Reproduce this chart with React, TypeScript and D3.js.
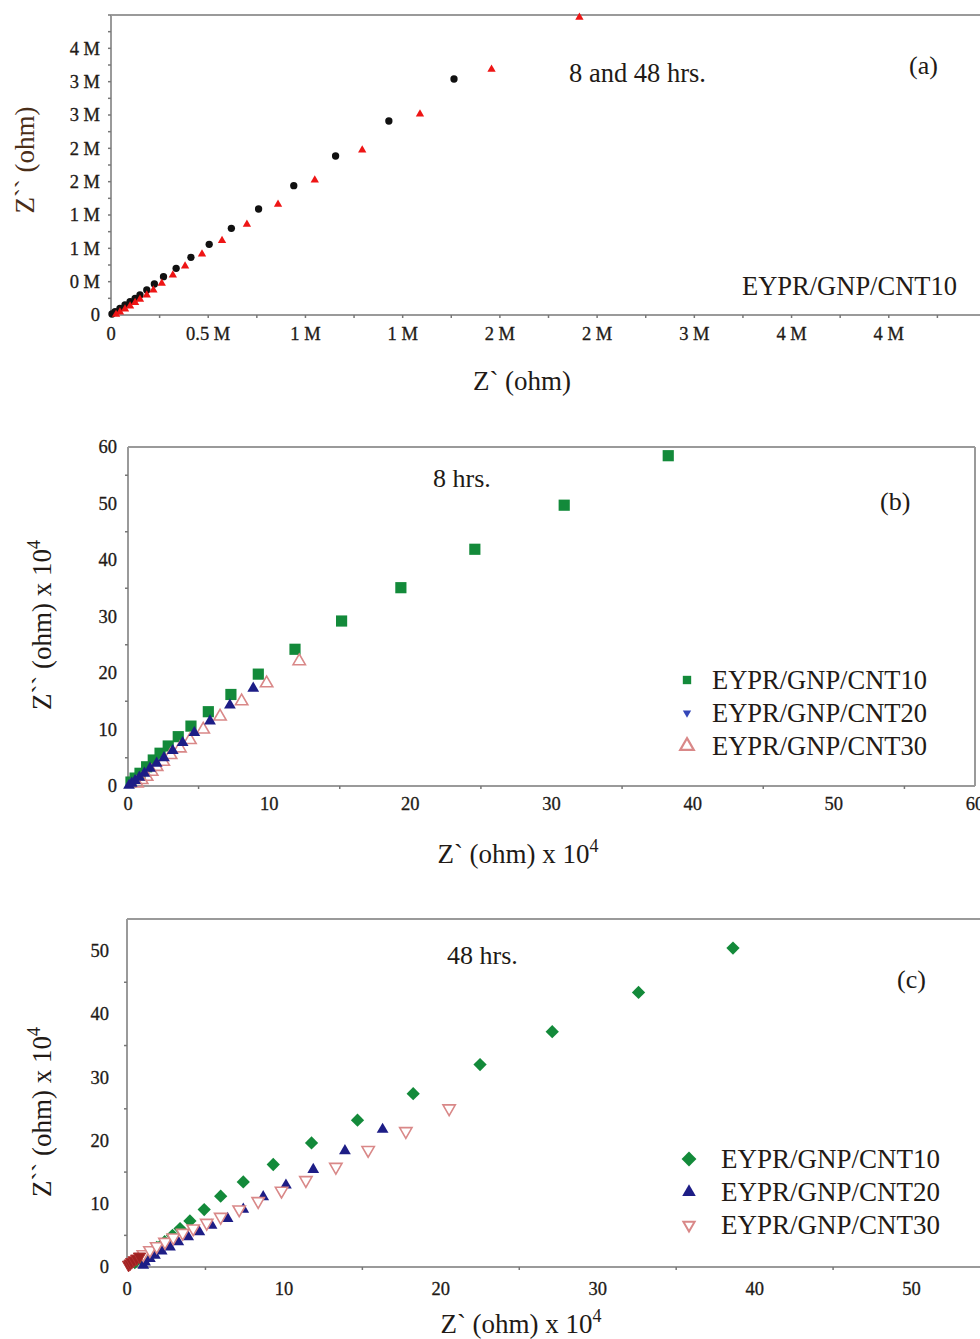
import React from "react";
import * as d3 from "d3";

// ---------- Panel (a): 8 and 48 hrs, values in M ohm ----------
const aXTicks = [0, 0.5, 1, 1.5, 2, 2.5, 3, 3.5, 4];
const aXTickLabels = ["0", "0.5 M", "1 M", "1 M", "2 M", "2 M", "3 M", "4 M", "4 M"];
const aYTicks = [0, 0.5, 1, 1.5, 2, 2.5, 3, 3.5, 4];
const aYTickLabels = ["0", "0 M", "1 M", "1 M", "2 M", "2 M", "3 M", "3 M", "4 M"];

const a8hrs: [number, number][] = [
  [0.005, 0.015], [0.021, 0.05], [0.046, 0.1], [0.072, 0.15], [0.098, 0.2],
  [0.124, 0.25], [0.149, 0.3], [0.184, 0.375], [0.223, 0.465], [0.27, 0.575],
  [0.335, 0.7], [0.411, 0.865], [0.505, 1.06], [0.619, 1.3], [0.759, 1.59],
  [0.94, 1.94], [1.155, 2.385], [1.429, 2.91], [1.764, 3.54],
];
const a48hrs: [number, number][] = [
  [0.026, 0.008], [0.046, 0.045], [0.072, 0.09], [0.098, 0.135], [0.124, 0.185],
  [0.149, 0.235], [0.184, 0.3], [0.218, 0.375], [0.261, 0.475], [0.318, 0.6],
  [0.381, 0.735], [0.468, 0.915], [0.571, 1.115], [0.699, 1.36], [0.859, 1.66],
  [1.048, 2.025], [1.292, 2.475], [1.589, 3.015], [1.957, 3.685], [2.409, 4.465],
];

// ---------- Panel (b): 8 hrs, values x 10^4 ohm ----------
const bTicks = [0, 10, 20, 30, 40, 50, 60];
const bSeriesNames = ["EYPR/GNP/CNT10", "EYPR/GNP/CNT20", "EYPR/GNP/CNT30"];
const bCNT10: [number, number][] = [
  [0.21, 0.7], [0.5, 1.4], [0.85, 2.25], [1.32, 3.4], [1.79, 4.6], [2.27, 5.8],
  [2.85, 7.08], [3.56, 8.73], [4.46, 10.6], [5.69, 13.15], [7.29, 16.2],
  [9.23, 19.8], [11.83, 24.2], [15.13, 29.2], [19.33, 35.1], [24.57, 41.9],
  [30.9, 49.7], [38.27, 58.46],
];
const bCNT20: [number, number][] = [
  [0.07, 0.1], [0.26, 0.48], [0.5, 0.94], [0.8, 1.54], [1.16, 2.25], [1.56, 3.13],
  [2.03, 4.0], [2.55, 5.0], [3.17, 6.25], [3.87, 7.66], [4.7, 9.43], [5.81, 11.5],
  [7.22, 14.3], [8.87, 17.3],
];
const bCNT30: [number, number][] = [
  [0.64, 0.48], [0.97, 1.06], [1.32, 1.65], [1.68, 2.53], [2.03, 3.4], [2.5, 4.3],
  [3.02, 5.49], [3.68, 6.67], [4.39, 8.14], [5.33, 10.0], [6.52, 12.3],
  [8.05, 15.0], [9.82, 18.2], [12.13, 22.1],
];

// ---------- Panel (c): 48 hrs, values x 10^4 ohm ----------
const cXTicks = [0, 10, 20, 30, 40, 50];
const cYTicks = [0, 10, 20, 30, 40, 50];
const cSeriesNames = ["EYPR/GNP/CNT10", "EYPR/GNP/CNT20", "EYPR/GNP/CNT30"];
const cCNT10: [number, number][] = [
  [0.5, 0.7], [0.9, 1.4], [1.4, 2.2], [1.9, 3.1], [2.4, 4.0], [2.9, 5.0],
  [3.38, 6.08], [4.01, 7.28], [4.92, 9.08], [5.97, 11.2], [7.41, 13.45],
  [9.32, 16.2], [11.76, 19.6], [14.69, 23.2], [18.24, 27.4], [22.5, 32.0],
  [27.1, 37.2], [32.6, 43.4], [38.62, 50.4],
];
const cCNT20: [number, number][] = [
  [1.04, 0.27], [1.15, 0.79], [1.46, 1.33], [1.78, 1.85], [2.21, 2.53],
  [2.74, 3.16], [3.27, 3.96], [3.9, 4.75], [4.61, 5.54], [5.39, 6.6], [6.41, 7.66],
  [7.41, 9.13], [8.68, 11.08], [10.13, 12.93], [11.87, 15.41], [13.89, 18.35],
  [16.29, 21.74],
];
const cCNT30: [number, number][] = [
  [1.04, 2.01], [1.46, 2.64], [1.89, 3.28], [2.42, 3.96], [2.95, 4.65],
  [3.55, 5.38], [4.22, 6.08], [5.08, 6.96], [5.97, 7.91], [7.15, 9.08],
  [8.36, 10.4], [9.85, 12.03], [11.4, 13.72], [13.31, 15.82], [15.37, 18.47],
  [17.77, 21.47], [20.53, 25.06],
];
const cCNT30Origin: [number, number][] = [
  [0.1, 0.35], [0.2, 0.55], [0.3, 0.79], [0.45, 1.05], [0.62, 1.33], [0.8, 1.65],
];

// ---------- helpers ----------
const FONT = "'Liberation Serif', 'Times New Roman', serif";
const AXIS = "#9a9a9a";
const TXT = "#221a16";
const GREEN = "#138a3a";
const NAVY = "#1d1d86";
const PINK = "#d98888";

const sym = (t: d3.SymbolType, s: number) => d3.symbol().type(t).size(s)() as string;

type Style = { d: string; fill: string; stroke?: string; sw?: number; rot?: number };

function Marks({ pts, x, y, st }: { pts: [number, number][]; x: any; y: any; st: Style }) {
  return (
    <g>
      {pts.map((p, i) => (
        <path
          key={i}
          d={st.d}
          transform={`translate(${x(p[0])},${y(p[1])}) rotate(${st.rot || 0})`}
          fill={st.fill}
          stroke={st.stroke || "none"}
          strokeWidth={st.sw || 0}
        />
      ))}
    </g>
  );
}

function Axes({
  x, y, xTicks, xLabels, yTicks, yLabels, xMinor, yMinor, rightEnd, rightBorder, xLabelDy, yLabelDx, fs,
}: any) {
  const [x0] = x.range();
  const [yb, yt] = y.range();
  return (
    <g>
      <line x1={x0} x2={x0} y1={yt} y2={yb} stroke={AXIS} strokeWidth={2} />
      <line x1={x0} x2={rightEnd} y1={yb} y2={yb} stroke={AXIS} strokeWidth={2} />
      <line x1={x0} x2={rightEnd} y1={yt} y2={yt} stroke={AXIS} strokeWidth={2} />
      {rightBorder && <line x1={rightEnd} x2={rightEnd} y1={yt} y2={yb} stroke={AXIS} strokeWidth={2} />}
      {xMinor.filter((v: number) => x(v) <= rightEnd).map((v: number, i: number) => (
        <line key={"xm" + i} x1={x(v)} x2={x(v)} y1={yb} y2={yb + 3} stroke="#777" strokeWidth={1.5} />
      ))}
      {yMinor.map((v: number, i: number) => (
        <line key={"ym" + i} x1={x0 - 3} x2={x0} y1={y(v)} y2={y(v)} stroke="#777" strokeWidth={1.5} />
      ))}
      {xTicks.map((v: number, i: number) => (
        <text key={"xt" + i} x={x(v)} y={yb + xLabelDy} textAnchor="middle" fontFamily={FONT} fontSize={fs} fill={TXT}
          stroke={TXT} strokeWidth={0.3}>
          {xLabels[i]}
        </text>
      ))}
      {yTicks.map((v: number, i: number) => (
        <text key={"yt" + i} x={x0 - yLabelDx} y={y(v)} dy="0.35em" textAnchor="end" fontFamily={FONT} fontSize={fs} fill={TXT}
          stroke={TXT} strokeWidth={0.3}>
          {yLabels[i]}
        </text>
      ))}
    </g>
  );
}

const range = (a: number, b: number, s: number) => d3.range(a, b + s / 2, s);

export default function App() {
  // Panel a
  const ax = d3.scaleLinear().domain([0, 4.5]).range([111, 986]);
  const ay = d3.scaleLinear().domain([0, 4.5]).range([315, 15]);
  // Panel b
  const bx = d3.scaleLinear().domain([0, 60]).range([128, 975]);
  const by = d3.scaleLinear().domain([0, 60]).range([786, 447]);
  // Panel c
  const cx = d3.scaleLinear().domain([0, 55]).range([127, 990]);
  const cy = d3.scaleLinear().domain([0, 55]).range([1267, 919]);

  const circ = sym(d3.symbolCircle, 42);
  const triSmall = sym(d3.symbolTriangle, 30);
  const square = sym(d3.symbolSquare, 125);
  const triMid = sym(d3.symbolTriangle, 60);
  const triOpen = sym(d3.symbolTriangle, 66);
  const diamond = sym(d3.symbolSquare, 88);

  const legB: Style[] = [
    { d: sym(d3.symbolSquare, 70), fill: GREEN },
    { d: sym(d3.symbolTriangle, 30), fill: "#3446b8", rot: 180 },
    { d: sym(d3.symbolTriangle, 80), fill: "none", stroke: PINK, sw: 2.2 },
  ];
  const legC: Style[] = [
    { d: sym(d3.symbolSquare, 110), fill: GREEN, rot: 45 },
    { d: sym(d3.symbolTriangle, 80), fill: NAVY },
    { d: sym(d3.symbolTriangle, 55), fill: "none", stroke: PINK, sw: 2, rot: 180 },
  ];

  const titleFs = 27;

  return (
    <svg
      width={980}
      height={1339}
      viewBox="0 0 980 1339"
      style={{ position: "absolute", left: 0, top: 0, background: "#fff" }}
    >
      <rect width={980} height={1339} fill="#fff" />

      {/* ---------------- Panel (a) ---------------- */}
      <Axes
        x={ax}
        y={ay}
        xTicks={aXTicks}
        xLabels={aXTickLabels}
        yTicks={aYTicks}
        yLabels={aYTickLabels}
        xMinor={range(0.25, 4.5, 0.25)}
        yMinor={range(0.25, 4.5, 0.25)}
        rightEnd={980}
        rightBorder={false}
        xLabelDy={25}
        yLabelDx={11}
        fs={18.5}
      />
      <Marks pts={a8hrs} x={ax} y={ay} st={{ d: circ, fill: "#111" }} />
      <Marks pts={a48hrs} x={ax} y={ay} st={{ d: triSmall, fill: "#ee1515" }} />
      <text x={569} y={82} fontFamily={FONT} fontSize={26.5} fill={TXT}>8 and 48 hrs.</text>
      <text x={909} y={74} fontFamily={FONT} fontSize={26} fill={TXT}>(a)</text>
      <text x={742} y={295} fontFamily={FONT} fontSize={26.5} fill={TXT}>EYPR/GNP/CNT10</text>
      <text x={522} y={390} textAnchor="middle" fontFamily={FONT} fontSize={titleFs} fill={TXT}>Z` (ohm)</text>
      <text
        transform="translate(25,160) rotate(-90)"
        textAnchor="middle"
        dy="0.35em"
        fontFamily={FONT}
        fontSize={titleFs}
        fill="#4a2e18"
      >
        Z`` (ohm)
      </text>

      {/* ---------------- Panel (b) ---------------- */}
      <Axes
        x={bx}
        y={by}
        xTicks={bTicks}
        xLabels={bTicks.map(String)}
        yTicks={bTicks}
        yLabels={bTicks.map(String)}
        xMinor={range(5, 55, 10)}
        yMinor={range(5, 55, 10)}
        rightEnd={975}
        rightBorder={true}
        xLabelDy={24}
        yLabelDx={11}
        fs={18.5}
      />
      <Marks pts={bCNT10} x={bx} y={by} st={{ d: square, fill: GREEN }} />
      <Marks pts={bCNT30} x={bx} y={by} st={{ d: triOpen, fill: "none", stroke: PINK, sw: 1.6 }} />
      <Marks pts={bCNT20} x={bx} y={by} st={{ d: triMid, fill: NAVY }} />
      <text x={433} y={487} fontFamily={FONT} fontSize={26} fill={TXT}>8 hrs.</text>
      <text x={880} y={510} fontFamily={FONT} fontSize={26} fill={TXT}>(b)</text>
      {bSeriesNames.map((n, i) => (
        <g key={n}>
          <path d={legB[i].d} transform={`translate(687,${680 + i * 33}) rotate(${legB[i].rot || 0})`}
            fill={legB[i].fill} stroke={legB[i].stroke || "none"} strokeWidth={legB[i].sw || 0} />
          <text x={712} y={680 + i * 33} dy="0.35em" fontFamily={FONT} fontSize={26.5} fill={TXT}>{n}</text>
        </g>
      ))}
      <text x={518} y={863} textAnchor="middle" fontFamily={FONT} fontSize={titleFs} fill={TXT}>
        Z` (ohm) x 10<tspan dy={-11} fontSize={18}>4</tspan>
      </text>
      <text transform="translate(42,625) rotate(-90)" textAnchor="middle" dy="0.35em"
        fontFamily={FONT} fontSize={titleFs} fill={TXT}>
        Z`` (ohm) x 10<tspan dy={-11} fontSize={18}>4</tspan>
      </text>

      {/* ---------------- Panel (c) ---------------- */}
      <Axes
        x={cx}
        y={cy}
        xTicks={cXTicks}
        xLabels={cXTicks.map(String)}
        yTicks={cYTicks}
        yLabels={cYTicks.map(String)}
        xMinor={range(5, 55, 10)}
        yMinor={range(5, 45, 10)}
        rightEnd={980}
        rightBorder={false}
        xLabelDy={28}
        yLabelDx={18}
        fs={18.5}
      />
      <Marks pts={cCNT10} x={cx} y={cy} st={{ d: diamond, fill: GREEN, rot: 45 }} />
      <Marks pts={cCNT20} x={cx} y={cy} st={{ d: triMid, fill: NAVY }} />
      <Marks pts={cCNT30} x={cx} y={cy} st={{ d: triOpen, fill: "#fff", stroke: PINK, sw: 1.6, rot: 180 }} />
      <Marks pts={cCNT30Origin} x={cx} y={cy} st={{ d: triOpen, fill: "#a02020", stroke: "#b03030", sw: 1, rot: 180 }} />
      <text x={447} y={964} fontFamily={FONT} fontSize={26} fill={TXT}>48 hrs.</text>
      <text x={897} y={988} fontFamily={FONT} fontSize={26} fill={TXT}>(c)</text>
      {cSeriesNames.map((n, i) => (
        <g key={n}>
          <path d={legC[i].d} transform={`translate(689,${1159 + i * 33}) rotate(${legC[i].rot || 0})`}
            fill={legC[i].fill} stroke={legC[i].stroke || "none"} strokeWidth={legC[i].sw || 0} />
          <text x={721} y={1159 + i * 33} dy="0.35em" fontFamily={FONT} fontSize={27} fill={TXT}>{n}</text>
        </g>
      ))}
      <text x={521} y={1333} textAnchor="middle" fontFamily={FONT} fontSize={titleFs} fill={TXT}>
        Z` (ohm) x 10<tspan dy={-11} fontSize={18}>4</tspan>
      </text>
      <text transform="translate(42,1112) rotate(-90)" textAnchor="middle" dy="0.35em"
        fontFamily={FONT} fontSize={titleFs} fill={TXT}>
        Z`` (ohm) x 10<tspan dy={-11} fontSize={18}>4</tspan>
      </text>
    </svg>
  );
}
